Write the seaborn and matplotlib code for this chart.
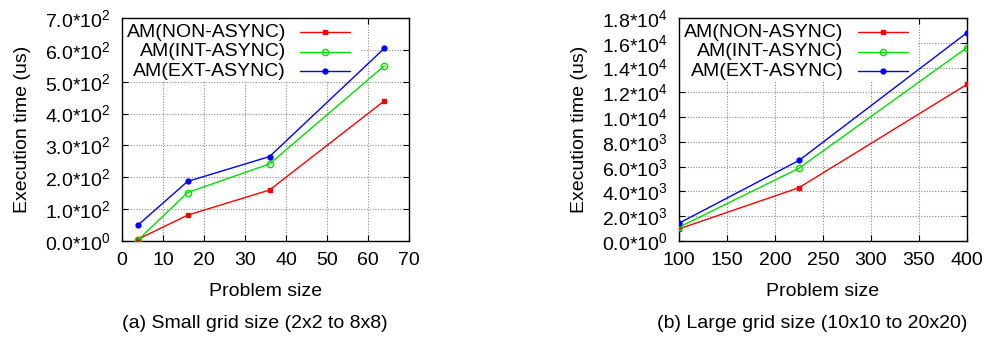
import numpy as np
import pandas as pd
import matplotlib
matplotlib.use("Agg")
import matplotlib.pyplot as plt
import seaborn as sns
from matplotlib.patches import Rectangle

# Data
series = ["AM(NON-ASYNC)", "AM(INT-ASYNC)", "AM(EXT-ASYNC)"]

small_x = [4, 16, 36, 64]
small_non = [6, 81, 160, 440]
small_int = [4, 152, 242, 550]
small_ext = [51, 187, 265, 605]

large_x = [100, 225, 400]
large_non = [975, 4300, 12640]
large_int = [1110, 5870, 15610]
large_ext = [1435, 6500, 16810]

small_ticks_y = [0, 100, 200, 300, 400, 500, 600, 700]
small_labels_y = ["0.0*10^0", "1.0*10^2", "2.0*10^2", "3.0*10^2", "4.0*10^2",
                  "5.0*10^2", "6.0*10^2", "7.0*10^2"]
large_ticks_y = [0, 2000, 4000, 6000, 8000, 10000, 12000, 14000, 16000, 18000]
large_labels_y = ["0.0*10^0", "2.0*10^3", "4.0*10^3", "6.0*10^3", "8.0*10^3",
                  "1.0*10^4", "1.2*10^4", "1.4*10^4", "1.6*10^4", "1.8*10^4"]

captions = ["(a) Small grid size (2x2 to 8x8)", "(b) Large grid size (10x10 to 20x20)"]

sns.set_theme(style="ticks")
plt.rcParams["font.family"] = ["Liberation Sans", "DejaVu Sans"]
plt.rcParams["mathtext.fontset"] = "custom"
plt.rcParams["mathtext.rm"] = "Liberation Sans"
plt.rcParams["mathtext.it"] = "Liberation Sans"
plt.rcParams["mathtext.default"] = "rm"
plt.rcParams["text.color"] = "black"
plt.rcParams["axes.labelcolor"] = "black"
plt.rcParams["xtick.color"] = "black"
plt.rcParams["ytick.color"] = "black"

colors = ["#ff0000", "#00dd00", "#0000ff"]
markers = ["s", "o", "o"]
msizes = [3.5, 4.5, 3.5]
mfaces = ["#ff0000", "none", "#0000ff"]

fs = 14


def to_math(lbl):
    base, exp = lbl.split("^")
    return r"$\mathregular{" + base.replace("*", "{*}") + "^{" + exp + "}}$"


def make_panel(ax, xs, ys_list, xlim, xticks, ylim, yticks, ylabels, caption):
    frames = []
    for name, ys in zip(series, ys_list):
        frames.append(pd.DataFrame({"size": xs, "time": ys, "series": name}))
    df = pd.concat(frames)
    for i, name in enumerate(series):
        sub = df[df["series"] == name]
        sns.lineplot(data=sub, x="size", y="time", ax=ax, color=colors[i],
                     lw=1.0, marker=markers[i], markersize=msizes[i],
                     markerfacecolor=mfaces[i], markeredgecolor=colors[i],
                     markeredgewidth=1.0, legend=False, zorder=3)
    ax.set_xlim(*xlim)
    ax.set_ylim(*ylim)
    ax.set_xticks(xticks)
    ax.set_yticks(yticks)
    ax.set_yticklabels([to_math(l) for l in ylabels])
    ax.tick_params(direction="in", top=True, right=True, labelsize=fs,
                   length=4, width=0.8, colors="black", pad=8)
    ax.grid(True, color="#888888", linestyle=(0, (1, 1.5)), lw=0.8)
    for sp in ax.spines.values():
        sp.set_color("black")
        sp.set_linewidth(1.0)
    ax.set_xlabel("Problem size", fontsize=fs, labelpad=10)
    ax.set_ylabel("Execution time (us)", fontsize=fs, labelpad=10)
    ax.text(0.462, -0.37, caption, transform=ax.transAxes, ha="center",
            va="center", fontsize=14)

    # key in gnuplot style: labels right-aligned, sample lines on the right
    ax.add_patch(Rectangle((0.003, 0.715), 0.825, 0.28, transform=ax.transAxes,
                           facecolor="white", edgecolor="none", zorder=2.5))
    rows = [0.937, 0.849, 0.762]
    for i, name in enumerate(series):
        ax.text(0.572, rows[i], name, transform=ax.transAxes, ha="right",
                va="center", fontsize=fs, zorder=4)
        ax.plot([0.62, 0.795], [rows[i], rows[i]], transform=ax.transAxes,
                color=colors[i], lw=1.0, zorder=4)
        ax.plot([0.708], [rows[i]], transform=ax.transAxes, color=colors[i],
                marker=markers[i], markersize=msizes[i], markerfacecolor=mfaces[i],
                markeredgecolor=colors[i], markeredgewidth=1.0, zorder=4)


fig = plt.figure(figsize=(9.86, 3.37), dpi=100)
ax1 = fig.add_axes([0.1237, 0.2849, 0.2911, 0.6617])
ax2 = fig.add_axes([0.6886, 0.2849, 0.2921, 0.6617])

make_panel(ax1, small_x, [small_non, small_int, small_ext], (0, 70),
           [0, 10, 20, 30, 40, 50, 60, 70], (0, 700),
           small_ticks_y, small_labels_y, captions[0])
make_panel(ax2, large_x, [large_non, large_int, large_ext], (100, 400),
           [100, 150, 200, 250, 300, 350, 400], (0, 18000),
           large_ticks_y, large_labels_y, captions[1])

fig.savefig("out.png", dpi=100)
